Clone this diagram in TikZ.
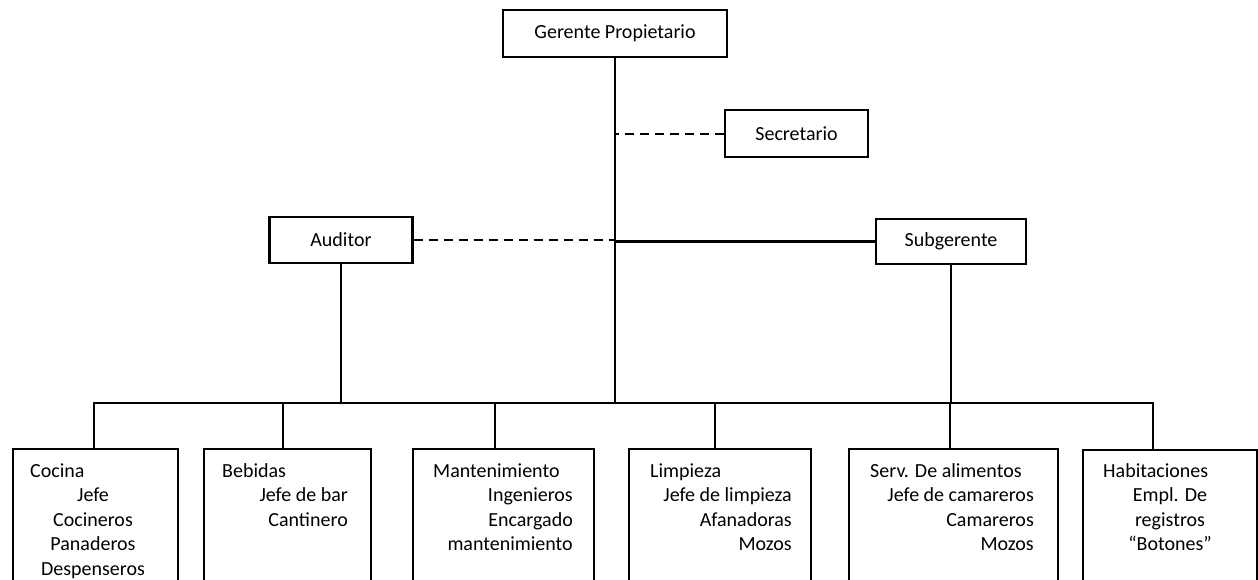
\documentclass[tikz,border=0pt]{standalone}
\usepackage{fontspec}
\setmainfont{Carlito}
\begin{document}
\begin{tikzpicture}[x=1pt,y=-1pt,
  box/.style={draw, line width=2.4pt, rectangle, inner sep=0pt,
              font=\fontsize{20}{24}\selectfont},
  dept/.style={box, anchor=north west, minimum height=220pt},
  link/.style={line width=2.4pt},
  dotlink/.style={line width=2pt, dash pattern=on 9pt off 6pt},
  txt/.style={font=\fontsize{20}{24}\selectfont, inner sep=0pt},
  head/.style={txt, anchor=base west},
  itemr/.style={txt, anchor=base east},
  itemc/.style={txt, anchor=base},
]
\useasboundingbox (0,0) rectangle (1258,579);
\clip (0,0) rectangle (1258,579);

% upper management
\node[box, minimum width=224pt, minimum height=47pt] (gerente) at (615,33.5) {Gerente Propietario};
\node[box, minimum width=143pt, minimum height=47pt] (secre) at (796.5,133.5) {Secretario};
\node[box, minimum width=143pt, minimum height=46pt] (auditor) at (341,240) {Auditor};
\node[box, minimum width=150pt, minimum height=45pt] (subg) at (951,241.5) {Subgerente};

% departments
\node[dept, minimum width=165pt] (cocina) at (12,448) {};
\node[dept, minimum width=167pt] (bebidas) at (203,448) {};
\node[dept, minimum width=181pt] (mant) at (412,448) {};
\node[dept, minimum width=182pt] (limp) at (628,448) {};
\node[dept, minimum width=209pt] (serv) at (848,448) {};
\node[dept, minimum width=174pt] (habit) at (1082,449) {};

% department contents
\node[head] (t1) at (30,477) {Cocina};
\node[itemc] (t1a) at (93,501.5) {Jefe};
\node[itemc] (t1b) at (93,526) {Cocineros};
\node[itemc] (t1c) at (93,550.5) {Panaderos};
\node[itemc] (t1d) at (93,575) {Despenseros};

\node[head] (t2) at (222,477) {Bebidas};
\node[itemr] (t2a) at (348,501.5) {Jefe de bar};
\node[itemr] (t2b) at (348,526) {Cantinero};

\node[head] (t3) at (433,477) {Mantenimiento};
\node[itemr] (t3a) at (573,501.5) {Ingenieros};
\node[itemr] (t3b) at (573,526) {Encargado};
\node[itemr] (t3c) at (573,550.5) {mantenimiento};

\node[head] (t4) at (650,477) {Limpieza};
\node[itemr] (t4a) at (792,501.5) {Jefe de limpieza};
\node[itemr] (t4b) at (792,526) {Afanadoras};
\node[itemr] (t4c) at (792,550.5) {Mozos};

\node[head] (t5) at (870,477) {Serv. De alimentos};
\node[itemr] (t5a) at (1034,501.5) {Jefe de camareros};
\node[itemr] (t5b) at (1034,526) {Camareros};
\node[itemr] (t5c) at (1034,550.5) {Mozos};

\node[head] (t6) at (1103,477) {Habitaciones};
\node[itemc] (t6a) at (1170,501.5) {Empl. De};
\node[itemc] (t6b) at (1170,526) {registros};
\node[itemc] (t6c) at (1170,550.5) {“Botones”};

% connectors
\coordinate (bus) at (0,403);
\draw[link] (gerente.south) -- (gerente.south |- bus);
\draw[link] (auditor.south) -- (auditor.south |- bus);
\draw[link] (subg.south) -- (subg.south |- bus);
\draw[link] (gerente.south |- subg.west) -- (subg.west);
\draw[dotlink] (auditor.east) -- (auditor.east -| gerente.south);
\draw[dotlink] (secre.west) -- (secre.west -| gerente.south);

\draw[link] ([xshift=82pt]cocina.north west) -- ([xshift=82pt]cocina.north west |- bus)
  -- ([xshift=71pt]habit.north west |- bus) -- ([xshift=71pt]habit.north west);
\draw[link] ([xshift=80pt]bebidas.north west) -- ([xshift=80pt]bebidas.north west |- bus);
\draw[link] ([xshift=83pt]mant.north west) -- ([xshift=83pt]mant.north west |- bus);
\draw[link] ([xshift=87pt]limp.north west) -- ([xshift=87pt]limp.north west |- bus);
\draw[link] ([xshift=102pt]serv.north west) -- ([xshift=102pt]serv.north west |- bus);
\end{tikzpicture}
\end{document}
